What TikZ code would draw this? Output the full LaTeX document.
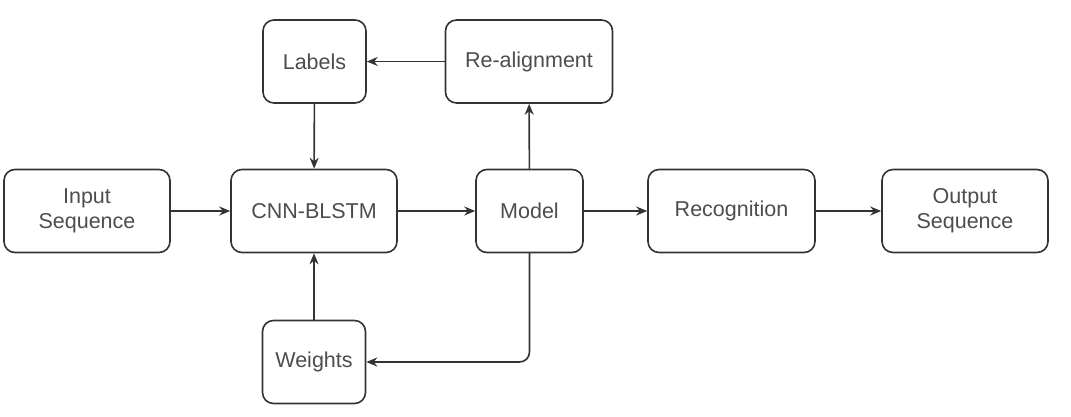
\documentclass[tikz,border=0pt]{standalone}
\usepackage{fontspec}
\setmainfont{Liberation Sans}
\usepackage{xcolor}
\usepackage{tikz}
\usetikzlibrary{arrows.meta}
\definecolor{edge}{HTML}{333333}
\definecolor{label}{HTML}{4D4D4D}

\begin{document}
\begin{tikzpicture}[x=1pt, y=-1pt, line cap=round, line join=round,
  block/.style={draw=edge, line width=1.6pt, rounded corners=11pt, fill=white,
    text=label, align=center, inner sep=0pt, minimum height=83pt,
    font=\fontsize{21.5}{25}\selectfont},
  flow/.style={draw=edge, line width=1.6pt, -{Stealth[length=11pt,width=9pt]}}]
  \useasboundingbox (0,0) rectangle (1071,416);
  % main row
  \node[block, minimum width=166pt] (input) at (87,211) {Input\\Sequence};
  \node[block, minimum width=166pt] (cnn) at (314,211) {CNN-BLSTM};
  \node[block, minimum width=107pt] (model) at (529.5,211) {Model};
  \node[block, minimum width=167pt] (recog) at (731.5,211) {Recognition};
  \node[block, minimum width=166pt] (output) at (965,211) {Output\\Sequence};
  % feedback loop
  \node[block, minimum width=103pt] (labels) at (314.5,61.5) {Labels};
  \node[block, minimum width=167pt] (realign) at (529,61.5) {Re-alignment};
  \node[block, minimum width=103pt] (weights) at (314,362) {Weights};
  \coordinate (turn) at (model.south |- weights.east);

  \draw[flow] (input) -- (cnn);
  \draw[flow] (cnn) -- (model);
  \draw[flow] (model) -- (recog);
  \draw[flow] (recog) -- (output);
  \draw[flow] (model) -- (realign);
  \draw[flow] (realign) -- (labels);
  \draw[flow] (labels) -- (cnn);
  \draw[flow] (weights) -- (cnn);
  \draw[flow, rounded corners=10pt] (model.south) -- (turn) -- (weights.east);
\end{tikzpicture}
\end{document}
